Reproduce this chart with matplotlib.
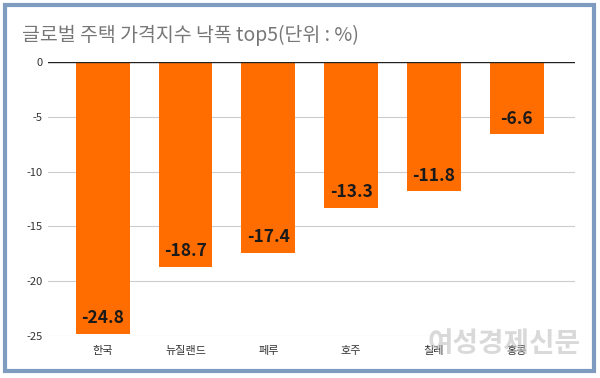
import matplotlib
matplotlib.use("Agg")
import matplotlib.pyplot as plt
from matplotlib.patches import Rectangle

plt.rcParams['font.family'] = ['Noto Sans CJK KR', 'DejaVu Sans']

countries = ['한국', '뉴질랜드', '페루', '호주', '칠레', '홍콩']
values = [-24.8, -18.7, -17.4, -13.3, -11.8, -6.6]
yticks = [0, -5, -10, -15, -20, -25]

fig = plt.figure(figsize=(6, 3.78), dpi=100)
ax = fig.add_axes([0.08, 0.111, 0.878, 0.725])

x = range(len(countries))
bars = ax.bar(x, values, width=0.65, color='#ff6d01', zorder=3)
for b, v in zip(bars, values):
    ax.text(b.get_x() + b.get_width() / 2, v + 0.6, '%.1f' % v,
            ha='center', va='bottom', fontsize=12.5, fontweight='bold',
            color='#1a1a1a', zorder=4)

ax.set_ylim(-25, 0)
ax.set_xlim(-0.66, 5.7)
ax.set_yticks(yticks)
ax.set_yticklabels([str(t) for t in yticks])
ax.set_xticks(list(x))
ax.set_xticklabels(countries)
ax.tick_params(axis='both', length=0, labelsize=8, colors='#333333')
ax.tick_params(axis='x', pad=7)
ax.tick_params(axis='y', pad=4)
ax.grid(axis='y', color='#cccccc', linewidth=0.8, zorder=0)
ax.axhline(0, color='#222222', linewidth=1, zorder=5)
for s in ax.spines.values():
    s.set_visible(False)

fig.text(0.037, 0.905, '글로벌 주택 가격지수 낙폭 top5(단위 : %)',
         fontsize=14, color='#777777', ha='left', va='center')

# watermark
fig.text(0.84, 0.09, '여성경제신문', fontsize=20, color='#bbbbbb', alpha=0.55,
         ha='center', va='center', fontweight='bold', zorder=10)

fig.patches.append(Rectangle((0.008, 0.018), 0.982, 0.968, transform=fig.transFigure,
                             fill=False, edgecolor='#7f9cc0', linewidth=3))

fig.savefig('out.png', dpi=100)
